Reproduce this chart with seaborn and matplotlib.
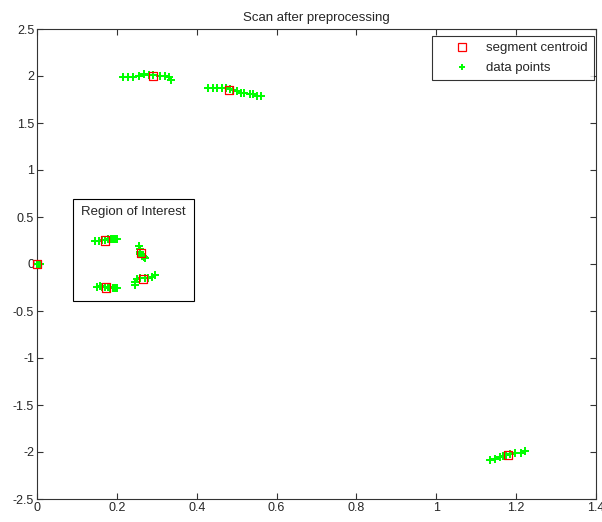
import numpy as np
import pandas as pd
import matplotlib
matplotlib.use("Agg")
import matplotlib.pyplot as plt
import seaborn as sns
from matplotlib.patches import Rectangle
from matplotlib.lines import Line2D

# ---- data ----
pts_x_origin = [0.0, 0.002, 0.004, 0.006, 0.008]
pts_y_origin = [0.0, 0.005, 0.0, -0.005, 0.0]

pts_x_top1 = [0.216, 0.228, 0.241, 0.256, 0.268, 0.281, 0.291, 0.308, 0.321, 0.331, 0.336]
pts_y_top1 = [1.989, 1.989, 1.989, 2.000, 2.021, 2.011, 2.011, 2.000, 2.000, 1.989, 1.960]

pts_x_top2 = [0.429, 0.441, 0.451, 0.464, 0.474, 0.484, 0.491, 0.501, 0.511, 0.519, 0.534, 0.541, 0.551, 0.561]
pts_y_top2 = [1.872, 1.872, 1.872, 1.872, 1.872, 1.862, 1.851, 1.840, 1.819, 1.819, 1.809, 1.809, 1.790, 1.787]

pts_x_roiA = [0.145, 0.155, 0.163, 0.170, 0.178, 0.185, 0.190, 0.195, 0.200]
pts_y_roiA = [0.240, 0.248, 0.252, 0.258, 0.262, 0.266, 0.268, 0.270, 0.268]

pts_x_roiB = [0.255, 0.257, 0.258, 0.259, 0.262, 0.265, 0.268, 0.270]
pts_y_roiB = [0.190, 0.160, 0.130, 0.110, 0.090, 0.080, 0.070, 0.060]

pts_x_roiC = [0.246, 0.246, 0.250, 0.258, 0.271, 0.279, 0.287, 0.296]
pts_y_roiC = [-0.223, -0.188, -0.163, -0.152, -0.152, -0.150, -0.135, -0.117]

pts_x_roiD = [0.150, 0.157, 0.163, 0.170, 0.177, 0.183, 0.190, 0.195, 0.200]
pts_y_roiD = [-0.240, -0.238, -0.242, -0.245, -0.248, -0.250, -0.255, -0.258, -0.260]

pts_x_low = [1.135, 1.148, 1.160, 1.168, 1.175, 1.185, 1.198, 1.211, 1.221]
pts_y_low = [-2.085, -2.074, -2.056, -2.043, -2.032, -2.021, -2.014, -2.007, -1.993]

centroid_x = [0.0, 0.29, 0.48, 0.17, 0.26, 0.265, 0.173, 1.18]
centroid_y = [0.0, 2.00, 1.85, 0.25, 0.12, -0.16, -0.25, -2.03]

x_ticks = [0, 0.2, 0.4, 0.6, 0.8, 1, 1.2, 1.4]
x_tick_labels = ["0", "0.2", "0.4", "0.6", "0.8", "1", "1.2", "1.4"]
y_ticks = [-2.5, -2, -1.5, -1, -0.5, 0, 0.5, 1, 1.5, 2, 2.5]
y_tick_labels = ["-2.5", "-2", "-1.5", "-1", "-0.5", "0", "0.5", "1", "1.5", "2", "2.5"]

points = pd.DataFrame({
    "x": pts_x_origin + pts_x_top1 + pts_x_top2 + pts_x_roiA + pts_x_roiB + pts_x_roiC + pts_x_roiD + pts_x_low,
    "y": pts_y_origin + pts_y_top1 + pts_y_top2 + pts_y_roiA + pts_y_roiB + pts_y_roiC + pts_y_roiD + pts_y_low,
})
cents = pd.DataFrame({"x": centroid_x, "y": centroid_y})

sns.set_style("white")
plt.rcParams['font.family'] = ['Liberation Sans', 'DejaVu Sans']

fig = plt.figure(figsize=(6.02, 5.22), dpi=100)
ax = fig.add_axes([37/602, 23/522, 559/602, 470/522])

green = "#00ff00"
red = "#ff0000"

sns.scatterplot(data=points, x="x", y="y", ax=ax, marker="P", s=26,
                color=green, linewidth=0, clip_on=False, zorder=3)
sns.scatterplot(data=cents, x="x", y="y", ax=ax, marker="s", s=34,
                color=red, clip_on=False, zorder=4)
# centroid squares: hollow red
coll = ax.collections[-1]
coll.set_facecolor("none")
coll.set_edgecolor(red)
coll.set_linewidth(0.9)

ax.set_xlim(0, 1.4)
ax.set_ylim(-2.5, 2.5)
ax.set_xticks(x_ticks)
ax.set_xticklabels(x_tick_labels)
ax.set_yticks(y_ticks)
ax.set_yticklabels(y_tick_labels)
ax.set_xlabel("")
ax.set_ylabel("")
ax.tick_params(direction="in", length=4, width=0.8, labelsize=9, top=True, right=True,
               bottom=True, left=True, color="#333333", pad=2)
for sp in ax.spines.values():
    sp.set_color("#333333")
    sp.set_linewidth(0.8)
ax.set_title("Scan after preprocessing", fontsize=9.5, pad=6)

roi = Rectangle((0.091, -0.39), 0.301, 1.078, fill=False, edgecolor="black", linewidth=0.8, zorder=2)
ax.add_patch(roi)
ax.text(0.109, 0.556, "Region of Interest", fontsize=9.5, ha="left", va="center")

handles = [
    Line2D([], [], marker="s", linestyle="none", markerfacecolor="none",
           markeredgecolor=red, markersize=6, markeredgewidth=0.9, label="segment centroid"),
    Line2D([], [], marker="P", linestyle="none", markerfacecolor=green,
           markeredgecolor=green, markersize=4.5, markeredgewidth=0, label="data points"),
]
leg = ax.legend(handles=handles, loc="upper right", bbox_to_anchor=(594/602, 1 - 36/522),
                bbox_transform=fig.transFigure, fontsize=9.5, frameon=True, fancybox=False,
                edgecolor="black", borderaxespad=0, handletextpad=0.05, borderpad=0.45,
                labelspacing=0.6, handlelength=3.6)
leg.get_frame().set_linewidth(0.8)

fig.savefig("out.png", dpi=100)
